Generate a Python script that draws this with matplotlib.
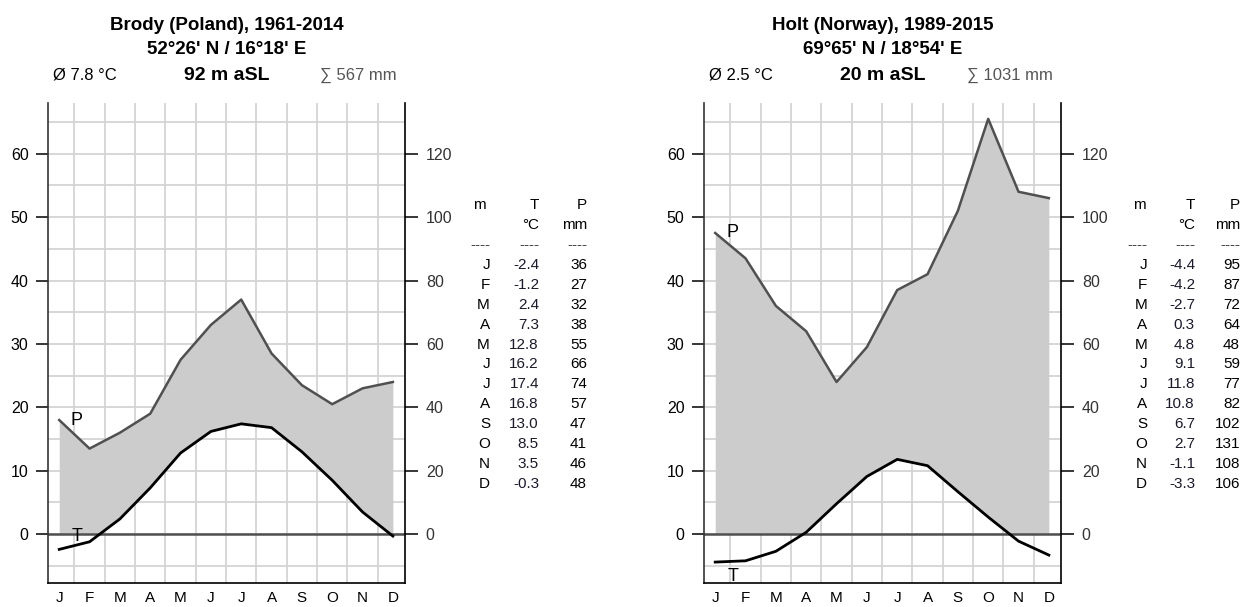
import numpy as np
import matplotlib
matplotlib.use("Agg")
import matplotlib.pyplot as plt

plt.rcParams['font.family'] = ['Liberation Sans', 'DejaVu Sans']

months = ['J', 'F', 'M', 'A', 'M', 'J', 'J', 'A', 'S', 'O', 'N', 'D']

brody_temp = [-2.4, -1.2, 2.4, 7.3, 12.8, 16.2, 17.4, 16.8, 13.0, 8.5, 3.5, -0.3]
brody_prec = [36, 27, 32, 38, 55, 66, 74, 57, 47, 41, 46, 48]

holt_temp = [-4.4, -4.2, -2.7, 0.3, 4.8, 9.1, 11.8, 10.8, 6.7, 2.7, -1.1, -3.3]
holt_prec = [95, 87, 72, 64, 48, 59, 77, 82, 102, 131, 108, 106]

brody_title = "Brody (Poland), 1961-2014"
brody_coords = "52°26' N / 16°18' E"
brody_elev = "92 m aSL"

holt_title = "Holt (Norway), 1989-2015"
holt_coords = "69°65' N / 18°54' E"
holt_elev = "20 m aSL"

W, H = 1244, 607


def fx(x):
    return x / W


def fy(y):
    return 1 - y / H


# Draws one climate diagram plus its side table
def draw_station(fig, left_px, right_px, temp, prec, title, coords, elev,
                 t_label_y, table_x):
    temp = np.array(temp, dtype=float)
    prec = np.array(prec, dtype=float)
    x = np.arange(1, 13)

    top_px, bottom_px = 103, 583
    ax = fig.add_axes([fx(left_px), fy(bottom_px),
                       (right_px - left_px) / W, (bottom_px - top_px) / H])
    ax.set_xlim(0.63, 12.4)
    ax.set_ylim(-7.7, 68)

    # grid
    for gx in np.arange(1.5, 12, 1.0):
        ax.axvline(gx, color='#d4d4d4', lw=1.3, zorder=0)
    for gy in np.arange(-5, 70, 5):
        ax.axhline(gy, color='#d4d4d4', lw=1.3, zorder=0)

    # humid area between temperature and precipitation (P scaled 2:1)
    xf = np.linspace(1, 12, 600)
    tf = np.interp(xf, x, temp)
    pf = np.interp(xf, x, prec / 2)
    ax.fill_between(xf, np.maximum(tf, 0), pf, color='#cccccc', lw=0, zorder=1)

    ax.axhline(0, color='#505050', lw=1.8, zorder=2)
    ax.plot(x, prec / 2, color='#505050', lw=1.8, zorder=3)
    ax.plot(x, temp, color='black', lw=2.0, zorder=4)

    ax.text(1.58, prec[0] / 2, 'P', fontsize=13, ha='center', va='center', zorder=5)
    ax.text(1.58, t_label_y, 'T', fontsize=13, ha='center', va='center', zorder=5)

    ax.set_xticks(x)
    ax.set_xticklabels(months)
    ax.set_yticks(np.arange(0, 70, 10))
    ax.tick_params(axis='x', length=0, pad=6, labelsize=11)
    ax.tick_params(axis='y', direction='out', length=9, width=1.1, pad=5,
                   labelsize=11.5, colors='black')
    for side in ['top', 'right']:
        ax.spines[side].set_visible(False)
    ax.spines['left'].set_color('#333333')
    ax.spines['bottom'].set_color('black')
    ax.spines['left'].set_linewidth(1.2)
    ax.spines['bottom'].set_linewidth(1.2)

    ax2 = ax.twinx()
    ax2.set_ylim(-15.4, 136)
    ax2.set_yticks(np.arange(0, 140, 20))
    ax2.tick_params(axis='y', direction='out', length=9, width=1.1, pad=6,
                    labelsize=11.5, labelcolor='#333333')
    for side in ['top', 'left', 'bottom']:
        ax2.spines[side].set_visible(False)
    ax2.spines['right'].set_color('black')
    ax2.spines['right'].set_linewidth(1.2)

    # header lines
    cx = (left_px + right_px) / 2
    fig.text(fx(cx), fy(25), title, fontsize=13.5, fontweight='bold',
             ha='center', va='center')
    fig.text(fx(cx), fy(50), coords, fontsize=13.5, fontweight='bold',
             ha='center', va='center')
    fig.text(fx(cx), fy(75), elev, fontsize=14, fontweight='bold',
             ha='center', va='center')
    fig.text(fx(left_px + 5), fy(75), f"Ø {temp.mean():.1f} °C", fontsize=12,
             ha='left', va='center')
    fig.text(fx(right_px - 8), fy(75), f"∑ {int(prec.sum())} mm", fontsize=12,
             ha='right', va='center', color='#555555')

    # side table
    m_left, m_right, t_right, p_right = table_x
    fs = 11
    fig.text(fx(m_left), fy(205), 'm', fontsize=fs, ha='left', va='center')
    fig.text(fx(t_right), fy(205), 'T', fontsize=fs, ha='right', va='center')
    fig.text(fx(p_right), fy(205), 'P', fontsize=fs, ha='right', va='center')
    fig.text(fx(t_right), fy(225), '°C', fontsize=fs, ha='right', va='center')
    fig.text(fx(p_right), fy(225), 'mm', fontsize=fs, ha='right', va='center')
    for cr in (m_right, t_right, p_right):
        fig.text(fx(cr), fy(245), '----', fontsize=fs, ha='right', va='center',
                 color='#444444')
    for i, mo in enumerate(months):
        ry = 265 + i * 19.9
        fig.text(fx(m_right), fy(ry), mo, fontsize=fs, ha='right', va='center')
        fig.text(fx(t_right), fy(ry), f"{temp[i]:.1f}", fontsize=fs,
                 ha='right', va='center', color='#1a1a2a')
        fig.text(fx(p_right), fy(ry), f"{int(prec[i])}", fontsize=fs,
                 ha='right', va='center')
    return ax


def main():
    fig = plt.figure(figsize=(W / 100, H / 100), dpi=100)
    fig.patch.set_facecolor('white')

    draw_station(fig, 48, 405, brody_temp, brody_prec, brody_title,
                 brody_coords, brody_elev, -0.3, (473, 490, 539, 587))
    draw_station(fig, 704, 1061, holt_temp, holt_prec, holt_title,
                 holt_coords, holt_elev, -6.6, (1133, 1147, 1195, 1240))

    fig.savefig('out.png', dpi=100, facecolor='white')
    plt.close(fig)


if __name__ == "__main__":
    main()
